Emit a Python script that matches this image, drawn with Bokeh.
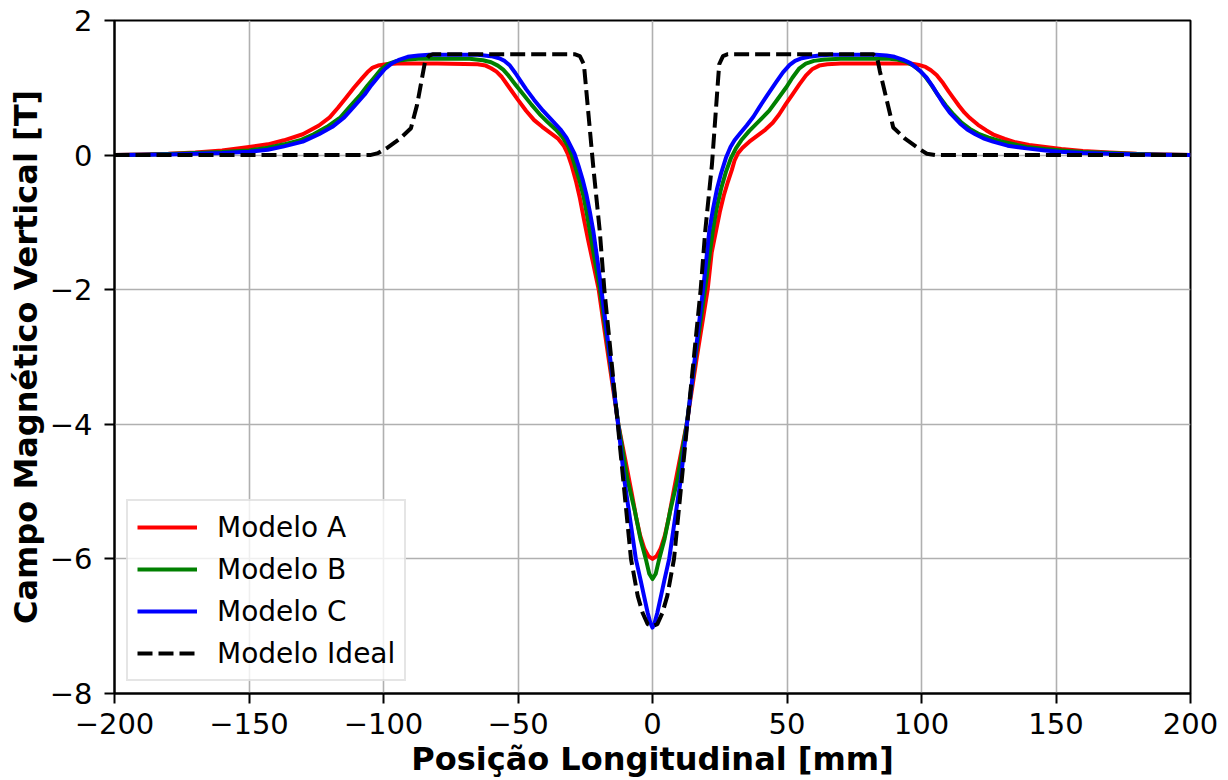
from bokeh.plotting import figure
from bokeh.models import Range1d, CustomJSTickFormatter, FixedTicker
from bokeh.embed import file_html
from bokeh.resources import INLINE

# ---- data ----
x_ticks = [-200, -150, -100, -50, 0, 50, 100, 150, 200]
y_ticks = [-8, -6, -4, -2, 0, 2]

# Modelo A (red)
xa = [-200, -190, -180, -170, -160, -150, -143, -137, -130, -124, -120, -117, -114, -111, -108,
      -106, -104, -102, -99, -95, -80, -65, -62, -60, -58, -56, -53, -50, -47, -44, -41, -38,
      -35, -33, -31.5, -30, -28.5, -27, -25.5, -24, -22, -20, -16.4, -12.7, -10, -7.7, -6, -4.6,
      -3, -1.5, 0,
      1.5, 3, 4.6, 6, 7.7, 10, 12.7, 16.5, 20.5, 22, 23.6, 25, 26.5, 28, 29.5, 30.5, 31.8, 33.5,
      36, 39, 42, 44.7, 47, 49.6, 52, 54.6, 57, 59.5, 62, 65, 70, 96, 99, 101.5, 103.5, 105.6,
      108, 110, 111.8, 114, 116, 118, 121, 124, 127, 131, 135, 140, 146, 152, 160, 170, 180, 190,
      200]
ya = [0.0, 0.01, 0.02, 0.04, 0.07, 0.12, 0.16, 0.22, 0.31, 0.44, 0.56, 0.70, 0.85, 1.0, 1.14,
      1.23, 1.30, 1.33, 1.35, 1.36, 1.36, 1.35, 1.33, 1.29, 1.24, 1.16, 0.99, 0.82, 0.66, 0.52,
      0.42, 0.33, 0.24, 0.14, 0.02, -0.16, -0.38, -0.64, -0.95, -1.25, -1.62, -2.0, -3.0, -4.0,
      -4.55, -5.03, -5.4, -5.65, -5.85, -5.96, -6.0,
      -5.96, -5.85, -5.65, -5.4, -5.03, -4.55, -4.0, -3.0, -2.0, -1.45, -1.13, -0.85, -0.6, -0.4,
      -0.22, -0.08, 0.03, 0.11, 0.2, 0.29, 0.38, 0.48, 0.6, 0.76, 0.9, 1.05, 1.18, 1.28, 1.33,
      1.35, 1.36, 1.36, 1.34, 1.31, 1.26, 1.19, 1.07, 0.95, 0.85, 0.73, 0.63, 0.55, 0.45, 0.37,
      0.30, 0.24, 0.19, 0.15, 0.12, 0.09, 0.06, 0.04, 0.02, 0.01, 0.0]

# Modelo B (green)
xb = [-200, -190, -180, -170, -160, -150, -143, -137, -131, -126, -121, -116, -112.5, -108.5,
      -106, -103.5, -101, -98.5, -95, -91, -87, -68, -63, -60, -57.5, -55.5, -53.5, -51, -48,
      -45, -42, -39, -36, -33.5, -31.5, -30, -28.5, -27, -25.6, -24.5, -23.3, -21.5, -19.5, -16,
      -12.7, -9.3, -6.5, -4.5, -2.5, -1.2, 0,
      1.2, 2.5, 4.5, 6.5, 9.3, 12.7, 16, 19.5, 21, 22.4, 23.8, 25.5, 27.3, 29.2, 31, 33, 36, 39.5,
      43.4, 46.5, 49.6, 52, 54.6, 57, 60, 64, 70, 88, 91, 94, 97, 99.5, 101.5, 103.5, 106, 109,
      112, 115, 118, 121, 125, 130, 139, 146, 152, 160, 170, 180, 190, 200]
yb = [0.0, 0.005, 0.015, 0.03, 0.045, 0.07, 0.11, 0.16, 0.22, 0.31, 0.42, 0.56, 0.72, 0.9,
      1.03, 1.15, 1.27, 1.35, 1.40, 1.42, 1.43, 1.43, 1.41, 1.38, 1.33, 1.27, 1.18, 1.05, 0.9,
      0.75, 0.61, 0.49, 0.38, 0.27, 0.14, 0.0, -0.2, -0.4, -0.62, -0.85, -1.13, -1.55, -2.0,
      -3.0, -4.0, -4.82, -5.3, -5.7, -6.0, -6.22, -6.3,
      -6.22, -6.0, -5.7, -5.3, -4.82, -4.0, -3.0, -2.0, -1.55, -1.13, -0.8, -0.5, -0.25, -0.04,
      0.1, 0.22, 0.36, 0.5, 0.66, 0.83, 1.0, 1.15, 1.29, 1.36, 1.40, 1.42, 1.43, 1.43, 1.42,
      1.39, 1.33, 1.25, 1.16, 1.05, 0.9, 0.74, 0.6, 0.48, 0.39, 0.32, 0.26, 0.2, 0.12, 0.09,
      0.07, 0.045, 0.03, 0.015, 0.005, 0.0]

# Modelo C (blue)
xc = [-200, -190, -180, -170, -160, -150, -143, -137, -130, -124, -119, -114.6, -111, -107,
      -104.5, -102, -99.5, -97, -94, -91, -87, -83, -65, -60, -57, -55, -53, -51, -49, -47, -44,
      -40.7, -37, -34, -32, -30.5, -29, -27.5, -26, -24.6, -23.3, -22, -20.5, -19, -15.8, -12.8,
      -10.5, -8, -6.2, -4.5, -3.1, -1.8, -0.8, 0,
      0.8, 1.8, 3.1, 4.5, 6.2, 8, 10.5, 12.8, 15.8, 18.8, 20, 21.1, 22.5, 24, 25.5, 27.3, 29,
      30.5, 32.3, 35, 37.5, 39.7, 42.5, 45.9, 48.5, 51, 53, 55.5, 58.3, 62, 66, 83, 87, 90, 93,
      95.7, 98, 100, 101.9, 104, 106, 108, 110.5, 114.3, 117, 120, 123, 126.6, 132, 139, 146,
      151.4, 160, 170, 180, 200]
yc = [0.0, 0.005, 0.01, 0.02, 0.03, 0.05, 0.08, 0.13, 0.2, 0.31, 0.42, 0.56, 0.72, 0.9, 1.04,
      1.16, 1.28, 1.36, 1.42, 1.46, 1.48, 1.49, 1.49, 1.47, 1.44, 1.40, 1.33, 1.22, 1.10, 0.98,
      0.82, 0.66, 0.50, 0.37, 0.26, 0.14, 0.02, -0.16, -0.36, -0.58, -0.84, -1.13, -1.55, -2.0,
      -3.0, -4.0, -4.82, -5.5, -6.0, -6.3, -6.56, -6.8, -6.95, -7.02,
      -6.95, -6.8, -6.56, -6.3, -6.0, -5.5, -4.82, -4.0, -3.0, -2.0, -1.55, -1.13, -0.8, -0.5,
      -0.27, -0.04, 0.12, 0.22, 0.31, 0.44, 0.57, 0.71, 0.88, 1.08, 1.23, 1.34, 1.40, 1.44, 1.46,
      1.48, 1.49, 1.49, 1.48, 1.46, 1.42, 1.37, 1.30, 1.23, 1.15, 1.03, 0.9, 0.77, 0.63, 0.47,
      0.38, 0.31, 0.25, 0.20, 0.14, 0.10, 0.07, 0.05, 0.03, 0.02, 0.01, 0.0]

# Modelo Ideal (black dashed)
xi = [-200, -105, -102, -98.5, -94, -89.8, -87.5, -84.5, -83, -81.5, -29, -27, -25.5, -22.1,
      -19.6, -17.9, -12.9, -8, -5.5, -3.7, -1.8, 0,
      1.8, 3.7, 5.5, 8, 12.9, 17.9, 19.6, 22.1, 24.8, 26.2, 28, 82, 83.5, 84.5, 89.5, 94, 98.5,
      102, 105, 200]
yi = [0.0, 0.0, 0.03, 0.11, 0.24, 0.40, 0.75, 1.40, 1.48, 1.5, 1.5, 1.47, 1.35, -0.14,
      -1.13, -2.0, -4.0, -6.0, -6.55, -6.8, -6.97, -7.0,
      -6.97, -6.8, -6.55, -6.0, -4.0, -2.0, -1.13, -0.14, 1.35, 1.47, 1.5, 1.5, 1.45, 1.25, 0.41,
      0.24, 0.11, 0.02, 0.0, 0.0]

x_label = "Posição Longitudinal [mm]"
y_label = "Campo Magnético Vertical [T]"

FONT = "DejaVu Sans"

p = figure(width=1228, height=780, output_backend="svg", toolbar_location=None,
           x_range=Range1d(-200, 200), y_range=Range1d(-8, 2),
           min_border_left=114, min_border_right=38, min_border_top=20, min_border_bottom=86)
p.background_fill_color = "white"
p.border_fill_color = "white"
p.outline_line_color = "black"
p.outline_line_width = 2

fmt = CustomJSTickFormatter(code="return tick < 0 ? '\\u2212' + Math.abs(tick) : '' + tick;")
for ax, ticks in ((p.xaxis[0], x_ticks), (p.yaxis[0], y_ticks)):
    ax.ticker = FixedTicker(ticks=ticks)
    ax.formatter = fmt
    ax.axis_line_width = 2
    ax.axis_line_color = "black"
    ax.major_tick_line_width = 2
    ax.major_tick_out = 10
    ax.major_tick_in = 0
    ax.minor_tick_out = 0
    ax.minor_tick_in = 0
    ax.major_label_text_font = FONT
    ax.major_label_text_font_size = "29px"
    ax.major_label_text_color = "black"
    ax.axis_label_text_font = FONT
    ax.axis_label_text_font_style = "bold"
    ax.axis_label_text_font_size = "32px"
    ax.axis_label_text_color = "black"

p.xaxis.axis_label = x_label
p.yaxis.axis_label = y_label
p.xaxis.major_label_standoff = 9
p.xaxis.axis_label_standoff = 3
p.yaxis.major_label_standoff = 12
p.yaxis.axis_label_standoff = 2

for g in (p.xgrid[0], p.ygrid[0]):
    g.grid_line_color = "#b0b0b0"
    g.grid_line_width = 1.6
p.xgrid.ticker = FixedTicker(ticks=x_ticks)
p.ygrid.ticker = FixedTicker(ticks=y_ticks)

LW = 4
p.line(xa, ya, color="red", line_width=LW, line_join="round", legend_label="Modelo A")
p.line(xb, yb, color="green", line_width=LW, line_join="round", legend_label="Modelo B")
p.line(xc, yc, color="blue", line_width=LW, line_join="round", legend_label="Modelo C")
p.line(xi, yi, color="black", line_width=LW, line_dash="15 6", line_join="round",
       legend_label="Modelo Ideal")

lg = p.legend[0]
lg.location = "bottom_left"
lg.margin = 12
lg.padding = 9
lg.spacing = 8
lg.glyph_width = 60
lg.glyph_height = 34
lg.label_height = 34
lg.label_standoff = 20
lg.label_text_font = FONT
lg.label_text_font_size = "28px"
lg.label_text_color = "black"
lg.border_line_color = "#cccccc"
lg.border_line_width = 2
lg.background_fill_color = "white"
lg.background_fill_alpha = 0.8

open("out.html", "w").write(file_html(p, INLINE))
